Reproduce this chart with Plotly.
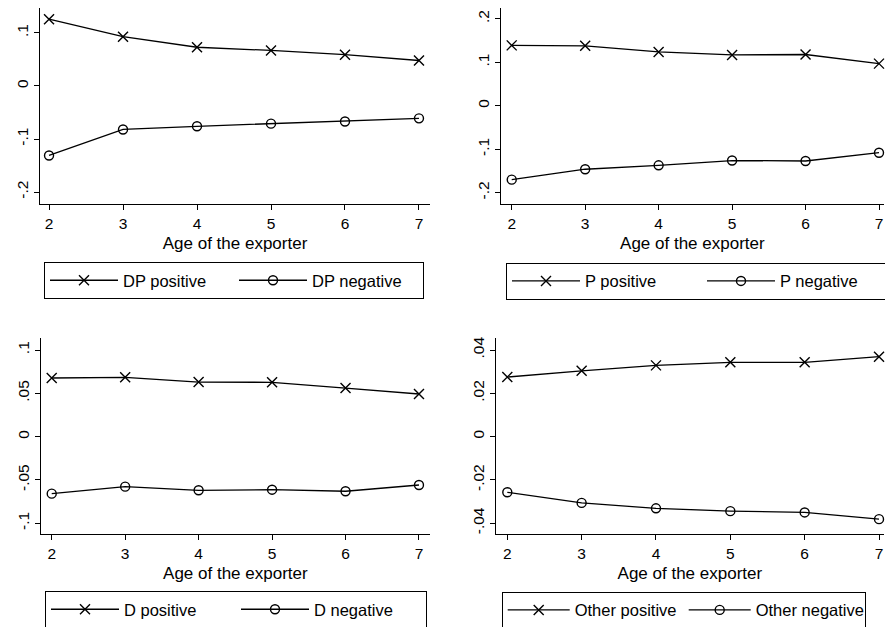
import plotly.graph_objects as go

ages = [2, 3, 4, 5, 6, 7]
x_ticks = [2, 3, 4, 5, 6, 7]

dp_pos = [0.126, 0.093, 0.073, 0.067, 0.059, 0.048]
dp_neg = [-0.131, -0.082, -0.076, -0.071, -0.067, -0.061]
p_pos = [0.139, 0.138, 0.124, 0.117, 0.118, 0.097]
p_neg = [-0.170, -0.146, -0.137, -0.126, -0.127, -0.108]
d_pos = [0.0677, 0.0685, 0.063, 0.0627, 0.0561, 0.0492]
d_neg = [-0.0658, -0.0577, -0.0619, -0.0612, -0.063, -0.0558]
o_pos = [0.0275, 0.0304, 0.0329, 0.0343, 0.0343, 0.0369]
o_neg = [-0.0257, -0.0306, -0.0331, -0.0344, -0.035, -0.0381]

yt1_vals = [-0.2, -0.1, 0, 0.1]
yt1_text = ["-.2", "-.1", "0", ".1"]
yt2_vals = [-0.2, -0.1, 0, 0.1, 0.2]
yt2_text = ["-.2", "-.1", "0", ".1", ".2"]
yt3_vals = [-0.1, -0.05, 0, 0.05, 0.1]
yt3_text = ["-.1", "-.05", "0", ".05", ".1"]
yt4_vals = [-0.04, -0.02, 0, 0.02, 0.04]
yt4_text = ["-.04", "-.02", "0", ".02", ".04"]

x_title = "Age of the exporter"

panels = [
    dict(pos=dp_pos, neg=dp_neg, names=("DP positive", "DP negative"),
         yv=yt1_vals, yt=yt1_text),
    dict(pos=p_pos, neg=p_neg, names=("P positive", "P negative"),
         yv=yt2_vals, yt=yt2_text),
    dict(pos=d_pos, neg=d_neg, names=("D positive", "D negative"),
         yv=yt3_vals, yt=yt3_text),
    dict(pos=o_pos, neg=o_neg, names=("Other positive", "Other negative"),
         yv=yt4_vals, yt=yt4_text),
]

W, H = 885, 627
# layout geometry (pixels)
geo = [
    dict(x0=40, x1=430, y0=8, y1=204, xr=[1.878, 7.149], yr=[-0.2225, 0.147],
         lx=44, ly=262, iw=68, ew=106),
    dict(x0=500.7, x1=884, y0=8, y1=204, xr=[1.85, 7.068], yr=[-0.226, 0.225],
         lx=506, ly=262.7, iw=68, ew=112),
    dict(x0=40.7, x1=430, y0=338.3, y1=534.3, xr=[1.85, 7.15], yr=[-0.1127, 0.1135],
         lx=45, ly=591, iw=68, ew=107),
    dict(x0=495.7, x1=884, y0=338.3, y1=534.3, xr=[1.844, 7.067], yr=[-0.0451, 0.0454],
         lx=501.7, ly=591.7, iw=62, ew=104),
]

FONT = "Liberation Sans, Arial, sans-serif"
fig = go.Figure()
layout = dict(
    width=W, height=H, margin=dict(l=0, r=0, t=0, b=0, autoexpand=False),
    paper_bgcolor="white", plot_bgcolor="white",
    font=dict(family=FONT, size=15, color="black"),
)

for i, (p, g) in enumerate(zip(panels, geo)):
    n = i + 1
    xa = "x" if n == 1 else f"x{n}"
    ya = "y" if n == 1 else f"y{n}"
    leg = "legend" if n == 1 else f"legend{n}"
    fig.add_trace(go.Scatter(
        x=ages, y=p["pos"], name=p["names"][0], mode="lines+markers",
        xaxis=xa, yaxis=ya, legend=leg, cliponaxis=False,
        line=dict(color="black", width=1.3),
        marker=dict(symbol="x-thin-open", size=10, color="black",
                    line=dict(color="black", width=1.4)),
    ))
    fig.add_trace(go.Scatter(
        x=ages, y=p["neg"], name=p["names"][1], mode="lines+markers",
        xaxis=xa, yaxis=ya, legend=leg, cliponaxis=False,
        line=dict(color="black", width=1.3),
        marker=dict(symbol="circle-open", size=9, color="black",
                    line=dict(color="black", width=1.4)),
    ))
    xkey = "xaxis" if n == 1 else f"xaxis{n}"
    ykey = "yaxis" if n == 1 else f"yaxis{n}"
    layout[xkey] = dict(
        domain=[g["x0"] / W, g["x1"] / W], anchor=ya, range=g["xr"],
        tickvals=x_ticks, ticktext=[str(v) for v in x_ticks],
        ticks="outside", ticklen=5, tickwidth=1, tickcolor="black",
        showline=True, linecolor="black", linewidth=1, showgrid=False, zeroline=False,
        tickfont=dict(size=15.5), title=dict(text=x_title, font=dict(size=17), standoff=6),
    )
    layout[ykey] = dict(
        domain=[1 - g["y1"] / H, 1 - g["y0"] / H], anchor=xa, range=g["yr"],
        tickvals=p["yv"], ticktext=p["yt"], tickangle=-90,
        ticks="outside", ticklen=5, tickwidth=1, tickcolor="black",
        showline=True, linecolor="black", linewidth=1, showgrid=False, zeroline=False,
        tickfont=dict(size=15.5),
    )
    layout[leg] = dict(
        x=g["lx"] / W, y=1 - g["ly"] / H, xanchor="left", yanchor="top",
        orientation="h", bordercolor="black", borderwidth=1, bgcolor="white",
        font=dict(size=16.5), itemwidth=g["iw"], entrywidth=g["ew"],
        entrywidthmode="pixels", traceorder="normal",
    )

fig.update_layout(**layout)
fig.write_html(
    "out.html",
    config={"displayModeBar": False},
    post_script="document.body.style.margin='0px';document.body.style.overflow='hidden';",
)
